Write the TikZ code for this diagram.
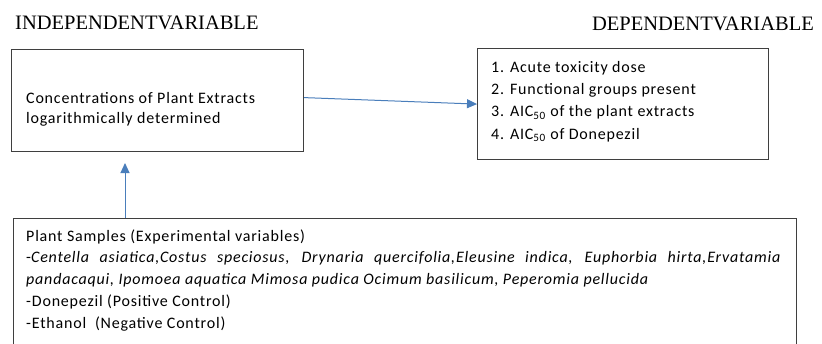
\documentclass[tikz,border=0pt]{standalone}
\usepackage{fontspec}
\setmainfont{Carlito}[LetterSpace=5]
\newfontfamily\headfont{Liberation Serif}
\usetikzlibrary{arrows.meta}

\definecolor{boxline}{HTML}{3F3F3F}
\definecolor{arrowblue}{HTML}{4A7EBB}

\begin{document}
\begin{tikzpicture}[x=1pt,y=-1pt,
    box/.style={draw=boxline,line width=1.2pt,inner sep=0pt,anchor=north west},
    head/.style={font=\headfont\fontsize{20.5}{20}\selectfont,inner sep=0pt},
    txt/.style={font=\fontsize{16}{#1}\selectfont,inner sep=0pt,anchor=base west,align=left},
    txt/.default=22,
    link/.style={draw=arrowblue,line width=1pt,-{Triangle[length=10pt,width=9pt]}}]

  \useasboundingbox (0,0) rectangle (822,343);

  \node[head,anchor=base west] (indep) at (15,29.5) {INDEPENDENTVARIABLE};
  \node[head,anchor=base east] (depend) at (814,30) {DEPENDENTVARIABLE};

  % boxes
  \node[box,minimum width=292,minimum height=102] (conc) at (11,49) {};
  \node[box,minimum width=291,minimum height=111] (dep) at (477,48) {};
  \node[box,minimum width=783,minimum height=150] (samp) at (13,218) {};

  % texts (last line baseline, or first line when a text width is set)
  \node[txt=20] (conctxt) at (26,123.5) {Concentrations of Plant Extracts\\
    logarithmically determined};
  \node[txt=22.3] (deptxt) at (491,139) {1. Acute toxicity dose\\
    2. Functional groups present\\
    3. AIC\textsubscript{50} of the plant extracts\\
    4. AIC\textsubscript{50} of Donepezil};
  \node[txt=21.8,text width=755,align=justify] (samptxt) at (26,241) {Plant Samples (Experimental variables)\\
    -\textit{Centella asiatica,Costus speciosus, Drynaria quercifolia,Eleusine indica, Euphorbia hirta,Ervatamia}\linebreak
    \textit{pandacaqui, Ipomoea aquatica Mimosa pudica Ocimum basilicum, Peperomia pellucida}\\
    -Donepezil (Positive Control)\\
    -Ethanol~ (Negative Control)};

  % connectors
  \coordinate (uptip) at (125,163);
  \draw[link] (samp.north -| uptip) -- (uptip);
  \draw[link] ([yshift=3pt]conc.east) -- (dep.west);

\end{tikzpicture}
\end{document}
